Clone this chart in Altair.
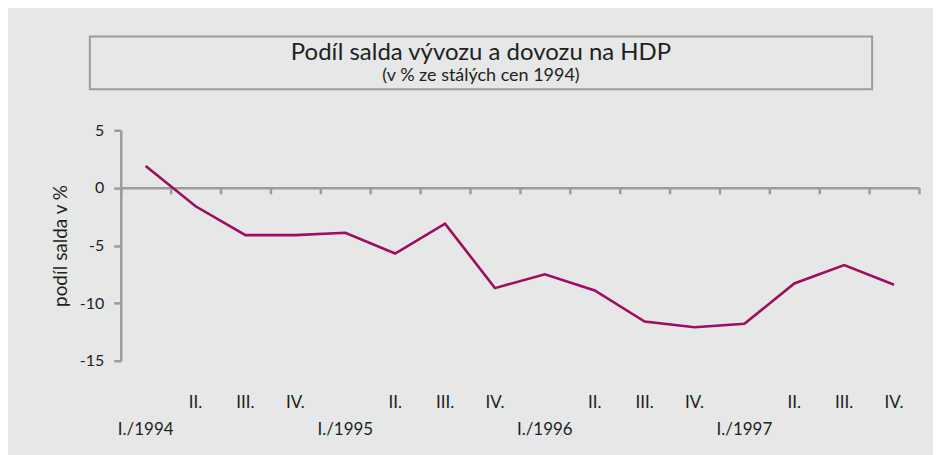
import json
import altair as alt
import pandas as pd

# ---- data ----
quarter_labels = ["I./1994", "II.", "III.", "IV.",
                  "I./1995", "II.", "III.", "IV.",
                  "I./1996", "II.", "III.", "IV.",
                  "I./1997", "II.", "III.", "IV."]
saldo = [1.9, -1.6, -4.1, -4.1,
         -3.9, -5.7, -3.1, -8.7,
         -7.5, -8.9, -11.6, -12.1,
         -11.8, -8.3, -6.7, -8.4]
y_ticks = [-15, -10, -5, 0, 5]
y_domain = [-15, 5]
title_text = "Podíl salda vývozu a dovozu na HDP"
subtitle_text = "(v % ze stálých cen 1994)"
y_title = "podíl salda v %"

FONT = "Lato"
GREY = "#9c9c9c"
LINE = "#a10c5c"
TXT = "#231f20"
BG = "#e6e7e9"

W, H = 800, 231

df = pd.DataFrame({"idx": list(range(len(saldo))), "saldo": saldo})

arr = json.dumps(quarter_labels, ensure_ascii=False)
label_expr = (f"indexof({arr}[datum.value], 'I./') == 0 ? "
              f"['', {arr}[datum.value]] : {arr}[datum.value]")

xscale = alt.Scale(type="band", paddingInner=0, paddingOuter=0)
yscale = alt.Scale(domain=y_domain, nice=False, zero=False)

yaxis = alt.Axis(values=y_ticks, title=y_title, grid=False,
                 labelExpr="toString(datum.value)",
                 domainColor=GREY, domainWidth=2.5, tickColor=GREY,
                 tickWidth=2.5, tickSize=7, labelPadding=10,
                 labelFontSize=16, labelColor=TXT, titleFontSize=19,
                 titleFontWeight="normal", titleColor=TXT, titlePadding=9)

line = alt.Chart(df).mark_line(color=LINE, strokeWidth=2.6).encode(
    x=alt.X("idx:O", scale=xscale, title=None,
            axis=alt.Axis(labelExpr=label_expr, labelAngle=0, domain=False,
                          ticks=False, labelPadding=34, labelLineHeight=27,
                          labelFontSize=17, labelColor=TXT, labelBaseline="top")),
    y=alt.Y("saldo:Q", scale=yscale, axis=yaxis),
)

zero_offset = -(H * (0 - y_domain[0]) / (y_domain[1] - y_domain[0]))

zero_axis = alt.Chart(df).mark_point(opacity=0).encode(
    x=alt.X("idx:O", scale=xscale, title=None,
            axis=alt.Axis(orient="bottom", labels=False, tickBand="extent",
                          offset=zero_offset, domainColor=GREY, domainWidth=2.5,
                          tickColor=GREY, tickWidth=2.5, tickSize=6)),
    y=alt.Y("saldo:Q", scale=yscale, axis=yaxis),
)

# ---- title frame above the plot (decoration, pixel placement) ----
frame_df = pd.DataFrame({"t": [title_text]})
frame = alt.Chart(frame_df).mark_rect(
    fillOpacity=0, stroke=GREY, strokeWidth=2).encode(
    x=alt.value(-31), x2=alt.value(753), y=alt.value(-94), y2=alt.value(-41))

title_df = pd.DataFrame({"t": [title_text, subtitle_text], "k": ["a", "b"]})
t1 = alt.Chart(title_df).transform_filter("datum.k == 'a'").mark_text(
    font=FONT, fontSize=24, color=TXT, baseline="middle", align="center").encode(
    text="t:N", x=alt.value(361), y=alt.value(-77))
t2 = alt.Chart(title_df).transform_filter("datum.k == 'b'").mark_text(
    font=FONT, fontSize=18, color=TXT, baseline="middle", align="center").encode(
    text="t:N", x=alt.value(361), y=alt.value(-54))

chart = alt.layer(line, zero_axis, frame, t1, t2).resolve_axis(
    x="independent").properties(
    width=W, height=H,
    background=BG,
    padding={"left": 43, "top": 27, "right": 12, "bottom": 31},
).configure(font=FONT).configure_view(strokeWidth=0)

chart.save("out.html", embed_options={"renderer": "svg", "actions": False})
